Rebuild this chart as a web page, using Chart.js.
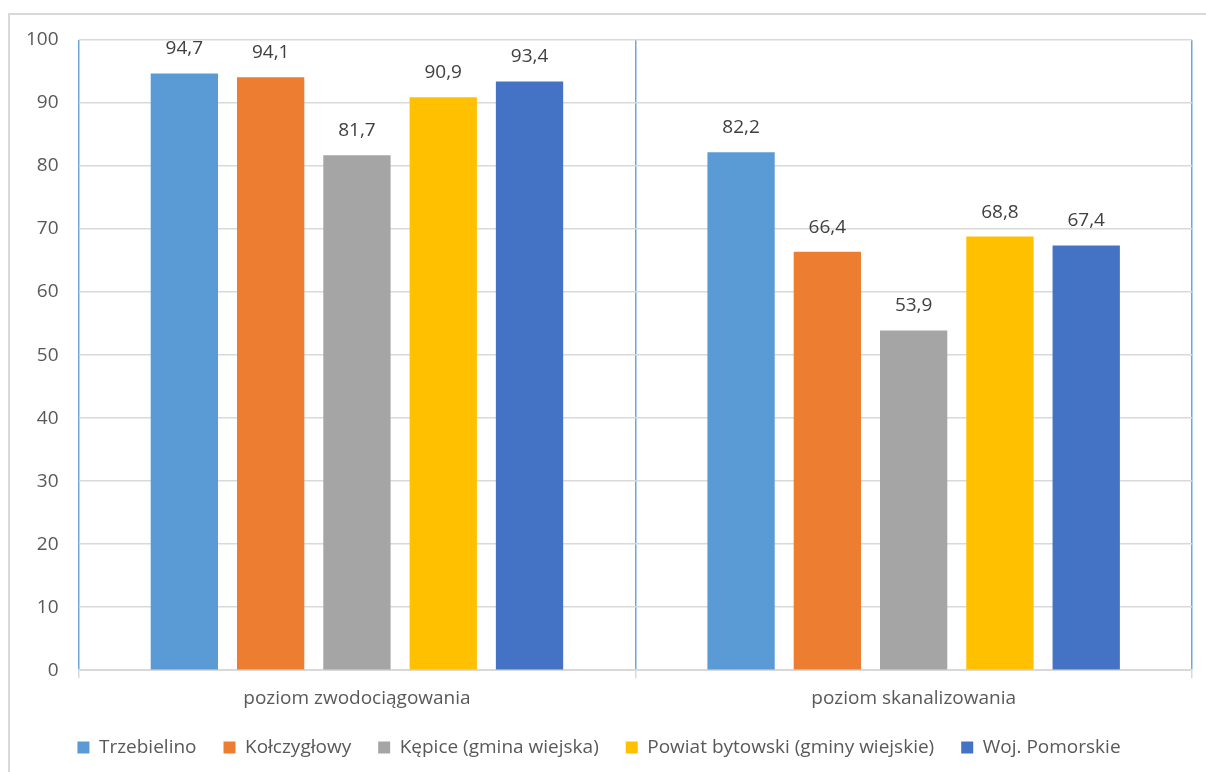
<!DOCTYPE html>
<html>
<head>
<meta charset="utf-8">
<script src="https://cdn.jsdelivr.net/npm/chart.js@4"></script>
<style>
  body { margin: 0; background: #fff; }
  #wrap { position: absolute; left: 0; top: 0; width: 1206px; height: 772px; }
  #ramka { position: absolute; left: 8px; top: 13px; width: 1210px; height: 780px; border: 2px solid #d9d9d9; pointer-events: none; }
</style>
</head>
<body>
<div id="wrap"><canvas id="my-chart" width="1206" height="772"></canvas></div>
<div id="ramka"></div>
<script>
const kategorie = ['poziom zwodociągowania', 'poziom skanalizowania'];
const nazwy = ['Trzebielino', 'Kołczygłowy', 'Kępice (gmina wiejska)', 'Powiat bytowski (gminy wiejskie)', 'Woj. Pomorskie'];
const trzebielino = [94.7, 82.2];
const kolczyglowy = [94.1, 66.4];
const kepice = [81.7, 53.9];
const powiat = [90.9, 68.8];
const wojewodztwo = [93.4, 67.4];
const yTicks = [0, 10, 20, 30, 40, 50, 60, 70, 80, 90, 100];

const kolory = ['#5B9BD5', '#ED7D31', '#A5A5A5', '#FFC000', '#4472C4'];
const serie = [trzebielino, kolczyglowy, kepice, powiat, wojewodztwo];

const font = '"Open Sans", "Noto Sans", sans-serif';

// popisy nad slupcami
const popisy = {
    id: 'popisy',
    afterLayout(chart) {
        // legenda troche vyssie
        chart.legend.top -= 8;
        chart.legend.bottom -= 8;
    },
    afterDatasetsDraw(chart) {
        const c = chart.ctx;
        c.save();
        c.font = '19px ' + font;
        c.fillStyle = '#404040';
        c.textAlign = 'center';
        c.textBaseline = 'bottom';
        chart.data.datasets.forEach((ds, i) => {
            chart.getDatasetMeta(i).data.forEach((bar, j) => {
                c.fillText(ds.data[j].toFixed(1).replace('.', ','), bar.x, bar.y - 15);
            });
        });
        c.restore();
    }
};

const ctx = document.getElementById('my-chart');

const chart = new Chart(ctx, {
    type: 'bar',
    data: {
        labels: kategorie,
        datasets: serie.map((s, i) => ({
            label: nazwy[i],
            data: s,
            backgroundColor: kolory[i],
            barPercentage: 0.78,
            categoryPercentage: 0.775
        }))
    },
    options: {
        responsive: false,
        animation: false,
        layout: { padding: { left: 6, right: 14, top: 40, bottom: -3 } },
        scales: {
            x: {
                grid: { color: '#6fa6d9', lineWidth: 1.5, tickColor: '#d9d9d9', tickLength: 8, offset: true },
                border: { color: '#d9d9d9', width: 2 },
                ticks: { color: '#595959', font: { family: font, size: 19 }, padding: 9 }
            },
            y: {
                min: 0,
                max: 100,
                afterBuildTicks(axis) { axis.ticks = yTicks.map(v => ({ value: v })); },
                grid: { color: '#d9d9d9', lineWidth: 1.5, drawTicks: false },
                border: { display: false },
                ticks: { color: '#595959', font: { family: font, size: 19 }, padding: 20 }
            }
        },
        plugins: {
            legend: {
                position: 'bottom',
                labels: {
                    color: '#595959',
                    font: { family: font, size: 19 },
                    boxWidth: 12,
                    boxHeight: 12,
                    padding: 27
                }
            },
            tooltip: { enabled: false }
        }
    },
    plugins: [popisy]
});
</script>
</body>
</html>
